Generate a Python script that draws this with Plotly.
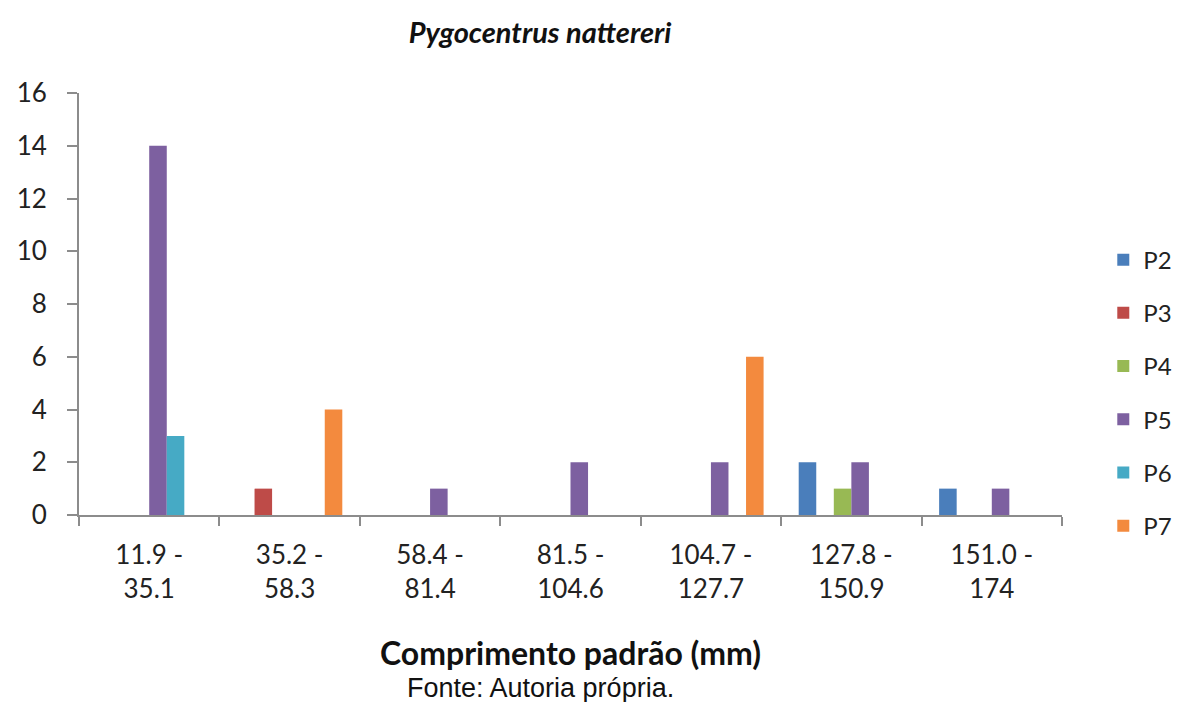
import plotly.graph_objects as go

categories = ["11.9 -<br>35.1", "35.2 -<br>58.3", "58.4 -<br>81.4", "81.5 -<br>104.6",
              "104.7 -<br>127.7", "127.8 -<br>150.9", "151.0 -<br>174"]
P2 = [0, 0, 0, 0, 0, 2, 1]
P3 = [0, 1, 0, 0, 0, 0, 0]
P4 = [0, 0, 0, 0, 0, 1, 0]
P5 = [14, 0, 1, 2, 2, 2, 1]
P6 = [3, 0, 0, 0, 0, 0, 0]
P7 = [0, 4, 0, 0, 6, 0, 0]
series_names = ["P2", "P3", "P4", "P5", "P6", "P7"]
series_values = [P2, P3, P4, P5, P6, P7]
colors = ["#4A7EBB", "#BE4B48", "#98B954", "#7D60A0", "#46AAC5", "#F38A3E"]
y_ticks = [0, 2, 4, 6, 8, 10, 12, 14, 16]

fig = go.Figure()
for name, vals, c in zip(series_names, series_values, colors):
    fig.add_trace(go.Bar(x=categories, y=vals, name=name, marker_color=c,
                         marker_line_width=0, legendgroup=name))

font_main = "Lato, Open Sans, sans-serif"
fig.update_layout(
    width=1190, height=702,
    margin=dict(l=79, r=128, t=93, b=187),
    paper_bgcolor="white", plot_bgcolor="white",
    barmode="group", bargap=0.25, bargroupgap=0,
    font=dict(family=font_main, size=24, color="#222222"),
    title=dict(text="<b><i>Pygocentrus nattereri</i></b>", x=0.469, xref="paper",
               xanchor="center", y=0.953, yanchor="middle",
               font=dict(size=29, family=font_main, color="#111111")),
    legend=dict(x=1.042, xanchor="left", y=0.289, yanchor="middle",
                font=dict(size=24, family=font_main, color="#222222"),
                tracegroupgap=19, itemwidth=30, bgcolor="rgba(0,0,0,0)"),
    showlegend=True,
)
fig.update_xaxes(
    showline=True, linecolor="#8C8C8C", linewidth=2,
    ticks="outside", tickson="boundaries", ticklen=9, tickcolor="#8C8C8C", tickwidth=2,
    ticklabelstandoff=16,
    showgrid=False, tickfont=dict(size=26, family=font_main, color="#222222"),
    title=dict(text="<b>Comprimento padrão (mm)</b>", standoff=40,
               font=dict(size=32, family=font_main, color="#111111")),
)
fig.update_yaxes(
    range=[0, 16], tickvals=y_ticks, showline=True, linecolor="#8C8C8C", linewidth=2,
    ticks="outside", ticklen=10, tickcolor="#8C8C8C", tickwidth=2,
    ticklabelstandoff=15,
    showgrid=False, zeroline=False, tickfont=dict(size=26, family=font_main, color="#222222"),
)
fig.add_annotation(text="Fonte: Autoria própria.", xref="paper", yref="paper",
                   x=0.469, y=-0.41, xanchor="center", yanchor="middle", showarrow=False,
                   font=dict(size=27, family="Liberation Sans, Arial, sans-serif", color="#111111"))
fig.write_html("out.html")
